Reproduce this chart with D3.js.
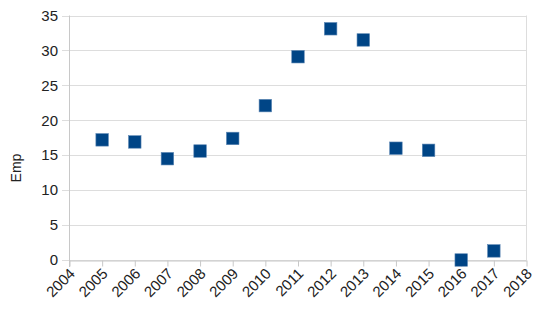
<!DOCTYPE html>
<html><head><meta charset="utf-8">
<script src="https://cdn.jsdelivr.net/npm/d3@7"></script>
<style>body{margin:0;background:#fff}svg{display:block}</style>
</head><body>
<script>
const years = [2005,2006,2007,2008,2009,2010,2011,2012,2013,2014,2015,2016,2017];
const emp = [17.2,16.9,14.5,15.6,17.4,22.1,29.1,33.1,31.5,16.0,15.7,0,1.3];
const xTicks = [2004,2005,2006,2007,2008,2009,2010,2011,2012,2013,2014,2015,2016,2017,2018];
const yTicks = [0,5,10,15,20,25,30,35];
const yLabel = "Emp";

const W=559,H=328;
const svg=d3.select("body").append("svg").attr("width",W).attr("height",H);
const x=d3.scaleLinear().domain([2004,2018]).range([69.5,526.5]);
const y=d3.scaleLinear().domain([0,35]).range([260,15.5]);
const font="'Liberation Sans', Arial, sans-serif";

// grid
svg.append("g").selectAll("line").data(yTicks).join("line")
  .attr("x1",62).attr("x2",526.5).attr("y1",d=>Math.round(y(d))+0.5).attr("y2",d=>Math.round(y(d))+0.5)
  .attr("stroke","#dddddd").attr("stroke-width",1);

// y axis line
svg.append("line").attr("x1",69.5).attr("x2",69.5).attr("y1",y(35)).attr("y2",y(0)+7)
  .attr("stroke","#c8c8c8");
svg.append("line").attr("x1",526.5).attr("x2",526.5).attr("y1",y(35)).attr("y2",y(0))
  .attr("stroke","#dddddd");
// x axis
const xa=svg.append("g").attr("transform",`translate(0,${Math.round(y(0))+0.5})`)
  .call(d3.axisBottom(x).tickValues(xTicks).tickFormat(d3.format("d")).tickSize(6).tickSizeOuter(0));
xa.select(".domain").attr("stroke","#c8c8c8");
xa.selectAll(".tick line").attr("stroke","#c8c8c8");
xa.selectAll(".tick text").attr("font-family",font).attr("font-size",15).attr("fill","#222")
  .attr("text-anchor","end").attr("dy",0).attr("y",0)
  .attr("transform","translate(6,14) rotate(-45)");

// y labels
svg.append("g").selectAll("text").data(yTicks).join("text")
  .attr("x",58).attr("y",d=>y(d)).attr("dy","0.35em").attr("text-anchor","end")
  .attr("font-family",font).attr("font-size",15).attr("fill","#222").text(d=>d);

svg.append("text").attr("transform",`translate(21,168) rotate(-90)`)
  .attr("text-anchor","middle").attr("font-family",font).attr("font-size",14).attr("fill","#222").text(yLabel);

// markers
const s=12.5;
svg.append("g").selectAll("rect").data(years.map((d,i)=>[d,emp[i]])).join("rect")
  .attr("x",d=>x(d[0])-s/2).attr("y",d=>y(d[1])-s/2).attr("width",s).attr("height",s)
  .attr("fill","#004586").attr("stroke","#5b86b3").attr("stroke-width",0.6);
</script>
</body></html>
